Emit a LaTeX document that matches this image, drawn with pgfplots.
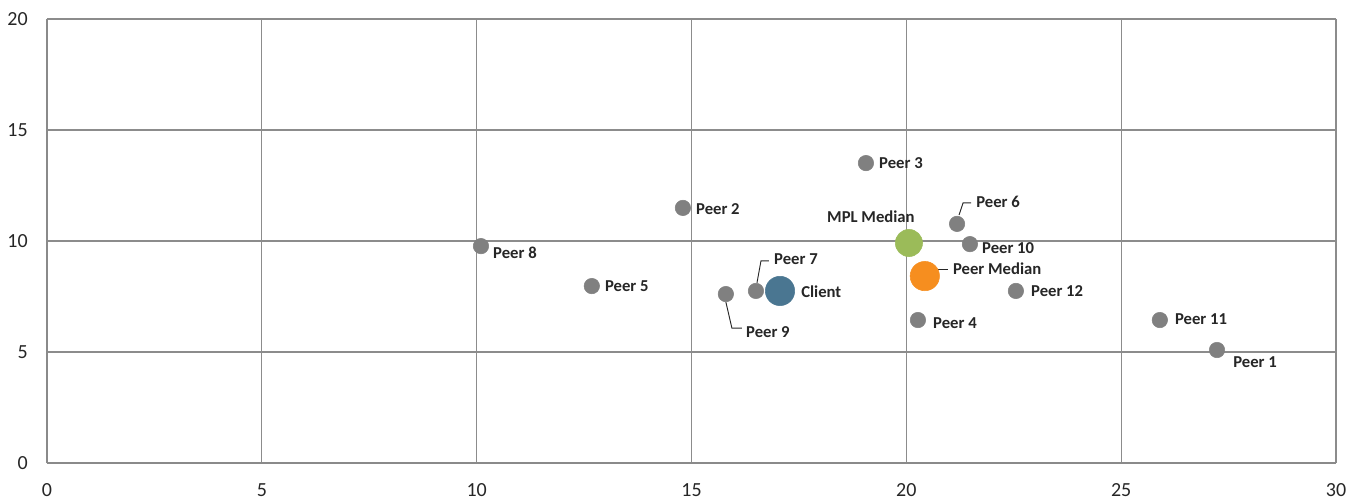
\documentclass[border=0pt]{standalone}
\usepackage{pgfplots}
\pgfplotsset{compat=1.18}
\usepackage{fontspec}
\setmainfont{Carlito}

\definecolor{dotgray}{HTML}{808080}
\definecolor{clientblue}{HTML}{4A7691}
\definecolor{mplgreen}{HTML}{9BBB59}
\definecolor{peerorange}{HTML}{F68E1F}
\definecolor{gridgray}{HTML}{8C8C8C}
\definecolor{axisgray}{HTML}{8A8A8A}
\definecolor{textdark}{HTML}{262626}

\pgfplotstableread{
x     y
27.23 5.09
14.80 11.49
19.06 13.51
20.27 6.44
12.68 7.97
21.18 10.77
16.50 7.75
10.10 9.77
15.80 7.61
21.48 9.86
25.90 6.44
22.55 7.75
}\peers

\begin{document}
\begin{tikzpicture}[
  lbl/.style={font=\bfseries\fontsize{12.5}{12.5}\selectfont, text=textdark, inner sep=0pt, anchor=west},
  leader/.style={draw=textdark, line width=0.7pt}
]
\begin{axis}[
  name=ax,
  scale only axis,
  width=966.75pt, height=333pt,
  xmin=0, xmax=30, ymin=0, ymax=20,
  xtick={0,5,...,30}, ytick={0,5,...,20},
  grid=major,
  major grid style={line width=0.9pt, color=gridgray},
  axis x line*=bottom, axis y line*=left,
  axis line style={line width=1.8pt, color=axisgray, -},
  major tick length=0pt,
  tick label style={font=\fontsize{15}{15}\selectfont, text=textdark, inner sep=0pt},
  /pgf/number format/assume math mode=true,
  xticklabel shift=15pt,
  yticklabel shift=14.25pt,
  clip=false,
]
% peers
\addplot[only marks, mark=*, mark size=5.8pt, mark options={draw=dotgray, fill=dotgray}] table[x=x, y=y] {\peers};
% client and benchmarks
\addplot[only marks, mark=*, mark size=11pt, mark options={draw=clientblue, fill=clientblue}] coordinates {(17.06,7.75)};
\addplot[only marks, mark=*, mark size=10.2pt, mark options={draw=mplgreen, fill=mplgreen}] coordinates {(20.06,9.91)};
\addplot[only marks, mark=*, mark size=11pt, mark options={draw=peerorange, fill=peerorange}] coordinates {(20.43,8.42)};

% leader lines
\draw[leader] ([shift={(1.5pt,6.75pt)}]axis cs:21.18,10.77) -- ([shift={(4.5pt,15.75pt)}]axis cs:21.18,10.77) -- ([shift={(10.5pt,15.75pt)}]axis cs:21.18,10.77);
\draw[leader] ([shift={(0.75pt,6pt)}]axis cs:16.50,7.75) -- ([shift={(3.75pt,22.5pt)}]axis cs:16.50,7.75) -- ([shift={(9.75pt,22.5pt)}]axis cs:16.50,7.75);
\draw[leader] ([shift={(0pt,-6pt)}]axis cs:15.80,7.61) -- ([shift={(4.5pt,-25.5pt)}]axis cs:15.80,7.61) -- ([shift={(12pt,-25.5pt)}]axis cs:15.80,7.61);
\draw[leader] ([shift={(9.75pt,5.25pt)}]axis cs:20.43,8.42) -- ([shift={(17.25pt,5.25pt)}]axis cs:20.43,8.42);

% labels
\node[lbl] at ([shift={(12pt,-9pt)}]axis cs:27.23,5.09) {Peer 1};
\node[lbl] at ([shift={(9.75pt,-0.75pt)}]axis cs:14.80,11.49) {Peer 2};
\node[lbl] at ([shift={(9.75pt,0pt)}]axis cs:19.06,13.51) {Peer 3};
\node[lbl] at ([shift={(11.25pt,-2.25pt)}]axis cs:20.27,6.44) {Peer 4};
\node[lbl] at ([shift={(9.75pt,0pt)}]axis cs:12.68,7.97) {Peer 5};
\node[lbl] at ([shift={(14.25pt,16.5pt)}]axis cs:21.18,10.77) {Peer 6};
\node[lbl] at ([shift={(13.5pt,24pt)}]axis cs:16.50,7.75) {Peer 7};
\node[lbl] at ([shift={(9pt,-5.25pt)}]axis cs:10.10,9.77) {Peer 8};
\node[lbl] at ([shift={(15pt,-28.5pt)}]axis cs:15.80,7.61) {Peer 9};
\node[lbl] at ([shift={(9pt,-3pt)}]axis cs:21.48,9.86) {Peer 10};
\node[lbl] at ([shift={(11.25pt,0.75pt)}]axis cs:25.90,6.44) {Peer 11};
\node[lbl] at ([shift={(11.25pt,0pt)}]axis cs:22.55,7.75) {Peer 12};
\node[lbl] at ([shift={(15.75pt,-0.75pt)}]axis cs:17.06,7.75) {Client};
\node[lbl, anchor=east] at ([shift={(4.5pt,19.5pt)}]axis cs:20.06,9.91) {MPL Median};
\node[lbl] at ([shift={(21pt,5.25pt)}]axis cs:20.43,8.42) {Peer Median};
\end{axis}
\pgfresetboundingbox
\useasboundingbox ([shift={(-35.25pt,-27.75pt)}]ax.south west) rectangle ([shift={(21pt,14.25pt)}]ax.north east);
\end{tikzpicture}
\end{document}
